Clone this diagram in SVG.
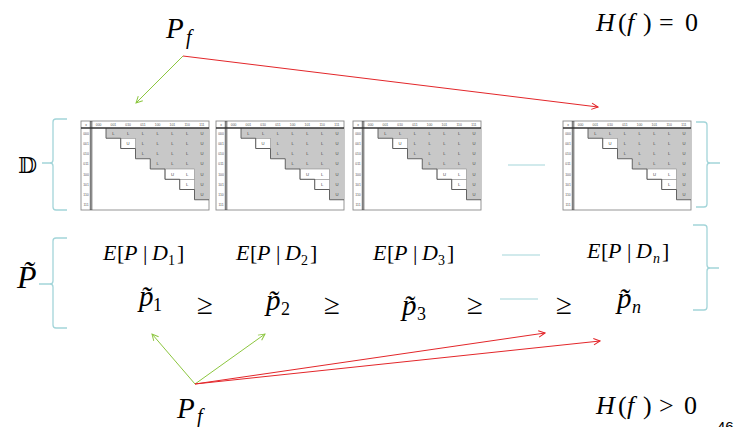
<svg xmlns="http://www.w3.org/2000/svg" width="734" height="427" viewBox="0 0 734 427">
<style>
.m{font-family:"Liberation Serif","Times New Roman",serif;font-style:italic;fill:#000}
.u{font-family:"Liberation Serif","Times New Roman",serif;font-style:normal;fill:#000}
.br{fill:none;stroke:#a3d5d9;stroke-width:1.3}
.dash{stroke:#a3d5d9;stroke-width:1.2}
.g{stroke:#8cc63f;stroke-width:1;fill:none}
.r{stroke:#e3262a;stroke-width:1;fill:none}
.tt{font-family:"Liberation Sans",Arial,sans-serif;font-size:3.4px;fill:#555;text-anchor:middle}
.tc{font-family:"Liberation Sans",Arial,sans-serif;font-size:4.2px;fill:#444;text-anchor:middle}
</style>
<defs>
<marker id="ag" viewBox="0 0 10 10" refX="9" refY="5" markerWidth="8" markerHeight="8" markerUnits="userSpaceOnUse" orient="auto"><path d="M1,1 L9,5 L1,9" fill="none" stroke="#8cc63f" stroke-width="1.2"/></marker>
<marker id="ar" viewBox="0 0 10 10" refX="9" refY="5" markerWidth="8" markerHeight="8" markerUnits="userSpaceOnUse" orient="auto"><path d="M1,1 L9,5 L1,9" fill="none" stroke="#e3262a" stroke-width="1.2"/></marker>
<g id="tbl">
<rect x="0" y="0" width="128" height="89" fill="#fff" stroke="#8a8a8a" stroke-width="0.9"/>
<polygon points="25,7 128,7 128,78.75 113.5,78.75 113.5,68.5 98.75,68.5 98.75,58.25 84,58.25 84,48 69.25,48 69.25,37.75 54.5,37.75 54.5,27.5 39.75,27.5 39.75,17.25 25,17.25" fill="#c8c8c8"/>
<rect x="39.75" y="17.25" width="14.75" height="10.25" fill="#fff" stroke="#777" stroke-width="0.5"/>
<rect x="84" y="48" width="29.5" height="10.25" fill="#fff" stroke="#777" stroke-width="0.5"/>
<rect x="98.75" y="58.25" width="14.75" height="10.25" fill="#fff" stroke="#777" stroke-width="0.5"/>
<polyline points="25,7 25,17.25 39.75,17.25 39.75,27.5 54.5,27.5 54.5,37.75 69.25,37.75 69.25,48 84,48 84,58.25 98.75,58.25 98.75,68.5 113.5,68.5 113.5,78.75 128,78.75" fill="none" stroke="#555" stroke-width="0.9"/>
<line x1="0" y1="7" x2="128" y2="7" stroke="#333" stroke-width="1.3"/>
<line x1="9.3" y1="0" x2="9.3" y2="89" stroke="#333" stroke-width="0.8"/>
<line x1="10.8" y1="0" x2="10.8" y2="89" stroke="#333" stroke-width="0.8"/>
<text class="tt" x="5" y="5">x</text>
<text class="tt" x="17.6" y="5">000</text><text class="tt" x="32.4" y="5">001</text><text class="tt" x="47.1" y="5">010</text><text class="tt" x="61.9" y="5">011</text><text class="tt" x="76.6" y="5">100</text><text class="tt" x="91.4" y="5">101</text><text class="tt" x="106.1" y="5">110</text><text class="tt" x="120.9" y="5">111</text>
<text class="tt" x="5" y="13.5">000</text><text class="tt" x="5" y="23.75">001</text><text class="tt" x="5" y="34">010</text><text class="tt" x="5" y="44.25">011</text><text class="tt" x="5" y="54.5">100</text><text class="tt" x="5" y="64.75">101</text><text class="tt" x="5" y="75">110</text><text class="tt" x="5" y="85.25">111</text>
<text class="tc" x="32.4" y="13.6">L</text><text class="tc" x="47.1" y="13.6">L</text><text class="tc" x="61.9" y="13.6">L</text><text class="tc" x="76.6" y="13.6">L</text><text class="tc" x="91.4" y="13.6">L</text><text class="tc" x="106.1" y="13.6">L</text><text class="tc" x="120.9" y="13.6">U</text>
<text class="tc" x="47.1" y="23.85">U</text><text class="tc" x="61.9" y="23.85">L</text><text class="tc" x="76.6" y="23.85">L</text><text class="tc" x="91.4" y="23.85">L</text><text class="tc" x="106.1" y="23.85">L</text><text class="tc" x="120.9" y="23.85">U</text>
<text class="tc" x="61.9" y="34.1">L</text><text class="tc" x="76.6" y="34.1">L</text><text class="tc" x="91.4" y="34.1">L</text><text class="tc" x="106.1" y="34.1">L</text><text class="tc" x="120.9" y="34.1">U</text>
<text class="tc" x="76.6" y="44.35">L</text><text class="tc" x="91.4" y="44.35">L</text><text class="tc" x="106.1" y="44.35">L</text><text class="tc" x="120.9" y="44.35">U</text>
<text class="tc" x="91.4" y="54.6">U</text><text class="tc" x="106.1" y="54.6">L</text><text class="tc" x="120.9" y="54.6">U</text>
<text class="tc" x="106.1" y="64.85">L</text><text class="tc" x="120.9" y="64.85">U</text>
<text class="tc" x="120.9" y="75.1">U</text>
</g>
</defs>
<rect width="734" height="427" fill="#fff"/>

<g id="Pf-top"><text class="m" x="166" y="38" font-size="29">P</text><text class="m" x="186" y="44" font-size="20">f</text></g>
<g id="H0"><text class="m" x="596" y="31" font-size="26">H</text><text class="u" x="618" y="31" font-size="26">(</text><text class="m" x="627" y="31" font-size="26">f</text><text class="u" x="643" y="31" font-size="26">)</text><text class="u" x="659" y="31" font-size="26">=</text><text class="u" x="685" y="31" font-size="26">0</text></g>

<g id="Dlabel"><text x="18" y="173" font-size="22" font-family="'DejaVu Serif','DejaVu Sans',serif">𝔻</text></g>
<g id="Dbrace-left"><path class="br" d="M67,119 H56 Q53,119 53,122 V160 Q53,163 50,163 H42 M50,163 Q53,163 53,166 V207 Q53,210 56,210 H67"/></g>
<g id="table1"><use href="#tbl" x="81" y="121"/></g>
<g id="table2"><use href="#tbl" x="216" y="121"/></g>
<g id="table3"><use href="#tbl" x="353" y="121"/></g>
<g id="dots-D"><line class="dash" x1="508" y1="165" x2="545" y2="165"/></g>
<g id="table4"><use href="#tbl" x="563" y="121"/></g>
<g id="Dbrace-right"><path class="br" d="M696,122 H704 Q707,122 707,125 V160 Q707,163 710,163 H720 M710,163 Q707,163 707,166 V204 Q707,207 704,207 H696"/></g>

<g id="Plabel"><text class="m" x="17" y="288" font-size="32">P̃</text></g>
<g id="Pbrace-left"><path class="br" d="M67,238 H56 Q53,238 53,241 V281 Q53,284 50,284 H39 M50,284 Q53,284 53,287 V325 Q53,328 56,328 H67"/></g>
<g id="Pbrace-right"><path class="br" d="M693,225 H704 Q707,225 707,228 V265 Q707,268 710,268 H719 M710,268 Q707,268 707,271 V307 Q707,310 704,310 H693"/></g>

<g id="E1"><text class="m" font-size="22" y="260"><tspan x="103">E</tspan><tspan class="u" x="117">[</tspan><tspan x="124">P</tspan><tspan class="u" x="143">|</tspan><tspan x="152">D</tspan></text><text class="u" font-size="14" x="168" y="265">1</text><text class="u" font-size="22" x="177" y="260">]</text></g>
<g id="E2"><text class="m" font-size="22" y="260"><tspan x="236">E</tspan><tspan class="u" x="250">[</tspan><tspan x="257">P</tspan><tspan class="u" x="276">|</tspan><tspan x="285">D</tspan></text><text class="u" font-size="14" x="301" y="265">2</text><text class="u" font-size="22" x="310" y="260">]</text></g>
<g id="E3"><text class="m" font-size="22" y="260"><tspan x="373">E</tspan><tspan class="u" x="387">[</tspan><tspan x="394">P</tspan><tspan class="u" x="413">|</tspan><tspan x="422">D</tspan></text><text class="u" font-size="14" x="438" y="265">3</text><text class="u" font-size="22" x="447" y="260">]</text></g>
<g id="dots-E"><line class="dash" x1="502" y1="255" x2="540" y2="255"/></g>
<g id="En"><text class="m" font-size="22" y="258"><tspan x="587">E</tspan><tspan class="u" x="601">[</tspan><tspan x="608">P</tspan><tspan class="u" x="627">|</tspan><tspan x="636">D</tspan></text><text class="m" font-size="14" x="653" y="263">n</text><text class="u" font-size="22" x="662" y="258">]</text></g>

<g id="p1"><text class="m" font-size="29" x="139" y="306">p̃</text><text class="u" font-size="18" x="153" y="311">1</text></g>
<g id="ge1"><text class="u" font-size="29" x="197" y="314">≥</text></g>
<g id="p2"><text class="m" font-size="29" x="266" y="310">p̃</text><text class="u" font-size="18" x="281" y="315">2</text></g>
<g id="ge2"><text class="u" font-size="29" x="324" y="314">≥</text></g>
<g id="p3"><text class="m" font-size="29" x="402" y="315">p̃</text><text class="u" font-size="18" x="417" y="320">3</text></g>
<g id="ge3"><text class="u" font-size="29" x="467" y="314">≥</text></g>
<g id="dots-p"><line class="dash" x1="500" y1="299" x2="538" y2="299"/></g>
<g id="ge4"><text class="u" font-size="29" x="556" y="314">≥</text></g>
<g id="pn"><text class="m" font-size="29" x="617" y="308">p̃</text><text class="m" font-size="18" x="632" y="313">n</text></g>

<g id="Pf-bottom"><text class="m" x="177" y="418" font-size="29">P</text><text class="m" x="197" y="423" font-size="20">f</text></g>
<g id="H1"><text class="m" x="596" y="414" font-size="26">H</text><text class="u" x="618" y="414" font-size="26">(</text><text class="m" x="627" y="414" font-size="26">f</text><text class="u" x="643" y="414" font-size="26">)</text><text class="u" x="659" y="414" font-size="26">&gt;</text><text class="u" x="684" y="414" font-size="26">0</text></g>
<g id="pagenum"><text x="717" y="432" font-size="15" font-family="'Liberation Sans',Arial,sans-serif" fill="#000">46</text></g>

<g id="connectors">
<line class="g" x1="183" y1="56" x2="136" y2="103" marker-end="url(#ag)"/>
<line class="r" x1="183" y1="56" x2="598" y2="107" marker-end="url(#ar)"/>
<line class="g" x1="195" y1="384" x2="152" y2="334" marker-end="url(#ag)"/>
<line class="g" x1="195" y1="384" x2="265" y2="334" marker-end="url(#ag)"/>
<line class="r" x1="195" y1="384" x2="545" y2="333" marker-end="url(#ar)"/>
<line class="r" x1="195" y1="384" x2="600" y2="341" marker-end="url(#ar)"/>
</g>
</svg>
